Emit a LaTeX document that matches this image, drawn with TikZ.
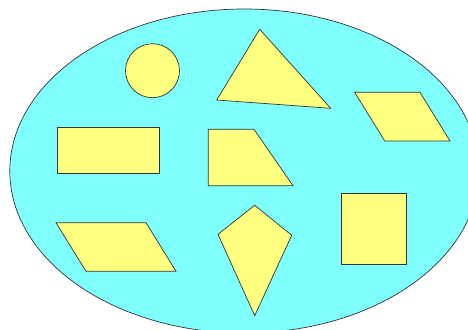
\documentclass[tikz,border=0pt]{standalone}
\definecolor{bgcyan}{HTML}{80FFFF}
\definecolor{shapeyellow}{HTML}{FFFF80}
\definecolor{edgegray}{HTML}{333333}
\tikzset{
  blob/.style={fill=bgcyan, draw=edgegray, line width=0.7pt},
  piece/.style={fill=shapeyellow, draw=edgegray, line width=0.7pt, line join=miter}
}
\begin{document}
\begin{tikzpicture}[x=1pt,y=-1pt]
\useasboundingbox (0,0) rectangle (468,329);
\clip (0,0) rectangle (468,329);
% background ellipse
\draw[blob] (244.3,171) ellipse [x radius=234.5, y radius=162];
% circle
\draw[piece] (152.5,70.7) circle [radius=27];
% triangle
\draw[piece] (259.7,29.3) -- (330.7,108.3) -- (216.7,100) -- cycle;
% rhombus top right
\draw[piece] (354.7,92.3) -- (420,92.3) -- (450,141) -- (384.7,141) -- cycle;
% rectangle left
\draw[piece] (57.3,127.3) rectangle (159.3,173.3);
% trapezoid middle
\draw[piece] (208.3,129.3) -- (254,129.3) -- (293,185.7) -- (208.3,185.7) -- cycle;
% parallelogram bottom left
\draw[piece] (56,222.7) -- (146,222.7) -- (176,271.3) -- (86,271.3) -- cycle;
% kite
\draw[piece] (254.7,205.3) -- (291.7,235.3) -- (254.7,315.7) -- (218,234.3) -- cycle;
% square
\draw[piece] (341.7,193.3) rectangle (406.3,264.3);
\end{tikzpicture}
\end{document}
